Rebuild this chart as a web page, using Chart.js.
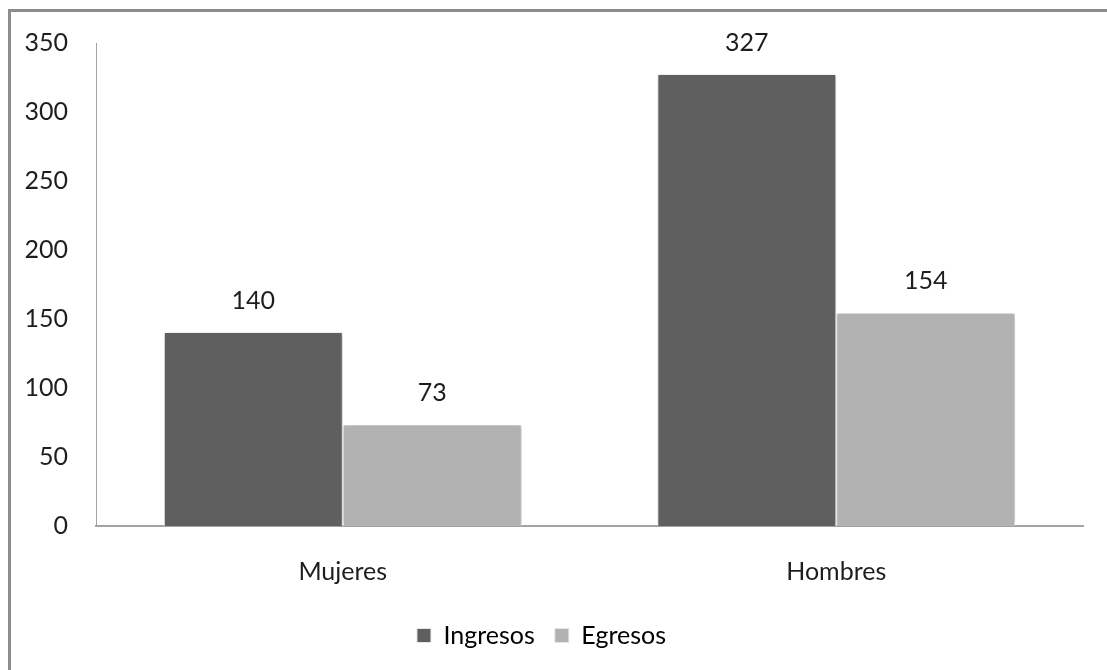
<!DOCTYPE html>
<html>
<head>
<meta charset="utf-8">
<script src="https://cdn.jsdelivr.net/npm/chart.js@4/dist/chart.umd.min.js"></script>
<style>
  html, body { margin: 0; padding: 0; background: #fff; }
  #wrap { position: relative; width: 1107px; height: 670px; overflow: hidden; }
  #frame { position: absolute; left: 8px; top: 9px; width: 1120px; height: 700px;
           border-top: 3px solid #8c8c8c; border-left: 3px solid #8c8c8c; }
  #c { position: absolute; left: 0; top: 0; }
</style>
</head>
<body>
<div id="wrap">
  <div id="frame"></div>
  <canvas id="c" width="1107" height="670"></canvas>
</div>
<script>
const categories = ['Mujeres', 'Hombres'];
const ingresos = [140, 327];
const egresos = [73, 154];
const yTicks = [0, 50, 100, 150, 200, 250, 300, 350];

const FONT = 'Lato, "Open Sans", sans-serif';

// soft drop shadow behind the bars
const barShadow = {
  id: 'barShadow',
  beforeDatasetsDraw(chart) {
    const ctx = chart.ctx;
    ctx.save();
    ctx.shadowColor = 'rgba(0,0,0,0.3)';
    ctx.shadowBlur = 5;
    ctx.shadowOffsetX = 1;
    ctx.shadowOffsetY = 0;
  },
  afterDatasetsDraw(chart) {
    chart.ctx.restore();
  }
};

// value written above each bar
const valueLabels = {
  id: 'valueLabels',
  afterDatasetsDraw(chart) {
    const ctx = chart.ctx;
    ctx.save();
    ctx.font = '25px ' + FONT;
    ctx.fillStyle = '#1e1e1e';
    ctx.textAlign = 'center';
    ctx.textBaseline = 'alphabetic';
    chart.data.datasets.forEach((ds, i) => {
      chart.getDatasetMeta(i).data.forEach((bar, j) => {
        ctx.fillText(String(ds.data[j]), bar.x, bar.y - 24);
      });
    });
    ctx.restore();
  }
};

new Chart(document.getElementById('c'), {
  type: 'bar',
  data: {
    labels: categories,
    datasets: [
      { label: 'Ingresos', data: ingresos, backgroundColor: '#5f5f5f',
        borderColor: '#f4f4f4', borderWidth: { left: 1, right: 1 } },
      { label: 'Egresos', data: egresos, backgroundColor: '#b2b2b2',
        borderColor: '#f4f4f4', borderWidth: { left: 1, right: 1 } }
    ]
  },
  options: {
    responsive: false,
    animation: false,
    layout: { padding: { left: 0, right: 24, top: 34, bottom: 12 } },
    datasets: { bar: { categoryPercentage: 0.725, barPercentage: 1.0 } },
    scales: {
      x: {
        afterFit(scale) { scale.height = 77; },
        grid: { display: false, drawTicks: false },
        border: { display: true, color: '#a3a3a3', width: 2 },
        ticks: { font: { family: FONT, size: 25 }, color: '#1e1e1e', padding: 31 }
      },
      y: {
        min: 0, max: 350,
        afterBuildTicks(scale) { scale.ticks = yTicks.map(v => ({ value: v })); },
        afterFit(scale) { scale.width = 96; },
        grid: { display: false, drawTicks: false },
        border: { display: true, color: '#a3a3a3', width: 1 },
        ticks: { font: { family: FONT, size: 25 }, color: '#1e1e1e', padding: 28 }
      }
    },
    plugins: {
      legend: {
        position: 'bottom',
        labels: {
          font: { family: FONT, size: 25 }, color: '#1e1e1e',
          boxWidth: 14, boxHeight: 14, padding: 20,
          generateLabels(chart) {
            return chart.data.datasets.map((ds, i) => ({
              text: ds.label, fillStyle: ds.backgroundColor,
              strokeStyle: '#e6e6e6', lineWidth: 1, datasetIndex: i
            }));
          }
        }
      },
      tooltip: { enabled: false }
    }
  },
  plugins: [barShadow, valueLabels]
});
</script>
</body>
</html>
